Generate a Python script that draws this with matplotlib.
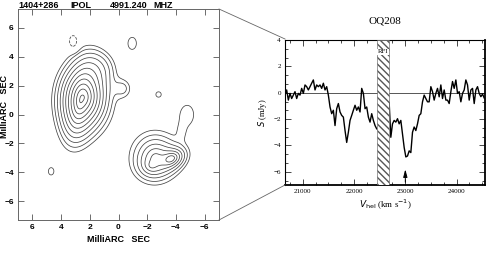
import numpy as np
import matplotlib
matplotlib.use("Agg")
from matplotlib import pyplot as plt
from matplotlib.lines import Line2D
from matplotlib.ticker import MultipleLocator

# --- contour map: source model as components (x, y in mas); kind 'e' = exponential, 'g' = gaussian ---
comp_kind = ['e', 'e', 'g', 'g', 'e', 'e', 'e', 'g', 'g', 'g', 'g', 'g', 'g']
comp_x    = [2.65, 2.40, 1.40, -0.35, -3.66, -2.30, -2.55, -4.80, -4.40, -0.96, -2.79, 4.70, 3.15]
comp_y    = [0.90, 1.20, 3.20, 1.80, -3.06, -3.55, -2.90, 0.05, -1.20, 4.93, 1.39, -3.94, 5.04]
comp_amp  = [19.0, 19.0, 1.5, 1.2, 9.0, 3.0, 5.0, 1.15, 0.45, 1.35, 1.2, 1.2, -2.3]
comp_sx   = [0.42, 0.65, 0.80, 0.45, 0.45, 0.45, 0.90, 0.62, 0.25, 0.35, 0.25, 0.25, 0.25]
comp_sy   = [1.00, 0.85, 0.80, 0.50, 0.30, 0.40, 0.95, 0.88, 0.45, 0.50, 0.25, 0.33, 0.38]
comp_pa   = [10, 0, 0, 0, 155, 0, 0, 0, 0, 0, 0, 0, 0]
levels = [1, 1.41, 2, 2.83, 4, 5.66, 8, 11.3, 16, 22.6, 32]

# --- HI spectrum ---
v_left0 = 20655
v_right0 = 22685
chan = 32.5
flux_left = [-0.18, 0.21, -0.56, -0.05, -0.44, -0.18, 0.08, -0.44, -0.05, -0.18,
             0.33, -0.05, 0.59, 0.46, 0.21, 0.46, 0.72, 0.97, 0.21, 0.59,
             0.46, 0.59, 0.33, 0.72, 0.21, 0.46, -0.18, -1.08, -1.59, -1.33,
             -2.49, -1.21, -0.82, -1.46, -1.72, -1.85, -2.87, -3.77, -3.0, -2.1,
             -1.72, -1.33, -0.95, -1.33, -1.08, -1.46, 0.33, -0.05, -1.21, -1.08,
             -1.85, -2.23, -1.59, -2.1, -2.49, -2.74]
flux_right = [-0.75, -3.38, -2.36, -2.1, -2.23, -1.97, -2.36, -2.1, -3.13, -4.15,
              -4.87, -4.8, -4.41, -4.54, -3.0, -2.6, -2.87, -2.36, -1.72, -1.59,
              -0.69, -0.18, -0.44, -0.69, -0.69, 0.46, 0.08, -0.56, -0.05, 0.33,
              -0.31, 0.59, -0.44, 0.21, -0.56, -0.56, -0.82, 0.08, 0.85, 0.33,
              0.97, -0.05, 0.08, -0.69, -0.05, 0.21, 0.97, 0.59, -0.56, 0.21,
              0.33, -0.82, 0.21, 0.46, -0.05, -0.3, -0.1, -0.4]
rfi = (22450, 22680)
v_sys = 23000

W, H = 491, 257
fig = plt.figure(figsize=(W/100, H/100), dpi=100)
fig.patch.set_facecolor('white')
sans = 'Liberation Sans'

# left panel
ax1 = fig.add_axes([18/W, 1-220/H, 201/W, 211/H])
gx = np.linspace(-7, 7, 500)
gy = np.linspace(-7.3, 7.3, 500)
X, Y = np.meshgrid(gx, gy)
img = np.zeros_like(X)
for kind, x0, y0, a, sx, sy, pa in zip(comp_kind, comp_x, comp_y, comp_amp, comp_sx, comp_sy, comp_pa):
    th = np.deg2rad(pa)
    dx, dy = X-x0, Y-y0
    u = (dx*np.cos(th) + dy*np.sin(th)) / sx
    v = (-dx*np.sin(th) + dy*np.cos(th)) / sy
    if kind == 'e':
        img += a*np.exp(-(np.sqrt(0.09 + u**2 + v**2) - 0.3))
    else:
        img += a*np.exp(-0.5*(u**2 + v**2))
ax1.contour(X, Y, img, levels=levels, colors='#444444', linewidths=0.55)
ax1.contour(X, Y, img, levels=[-1], colors='#444444', linewidths=0.55, linestyles='dashed')
ax1.set_xlim(7, -7)
ax1.set_ylim(-7.3, 7.3)
ax1.set_xticks([6, 4, 2, 0, -2, -4, -6])
ax1.set_yticks([6, 4, 2, 0, -2, -4, -6])
ax1.tick_params(direction='in', top=True, right=True, length=4, width=0.6,
                colors='#555555', labelcolor='black', labelsize=6, pad=3)
for lab in ax1.get_xticklabels() + ax1.get_yticklabels():
    lab.set_fontweight('bold')
    lab.set_family(sans)
for s in ax1.spines.values():
    s.set_color('#666666')
    s.set_linewidth(0.7)
ax1.set_xlabel('MilliARC   SEC', fontsize=6.5, fontweight='bold', family=sans, labelpad=3)
fig.text(4.5/W, 1-106/H, 'MilliARC   SEC', fontsize=6.5, fontweight='bold', family=sans,
         rotation=90, ha='center', va='center')
for xp, txt in [(18, '1404+286'), (70, 'IPOL'), (110, '4991.240'), (153, 'MHZ')]:
    fig.text(xp/W, 1-5/H, txt, fontsize=6.5, fontweight='bold', family=sans, va='center')

# right panel
ax2 = fig.add_axes([285/W, 1-185/H, 200/W, 145/H])
vl = v_left0 + chan*np.arange(len(flux_left))
vr = v_right0 + chan*np.arange(len(flux_right))
ax2.axhline(0, color='#555555', lw=0.7, zorder=1)
ax2.plot(vl, flux_left, color='black', lw=1.0, zorder=2)
ax2.plot(vr, flux_right, color='black', lw=1.0, zorder=2)
ax2.axvspan(rfi[0], rfi[1], facecolor='white', edgecolor='#555555', hatch='\\\\\\\\\\',
            lw=0.4, zorder=3)
ax2.text(sum(rfi)/2, 3.1, 'RFI', fontsize=5, family='Liberation Serif', ha='center',
         va='center', zorder=4, bbox=dict(facecolor='white', edgecolor='none', pad=0.3))
ax2.annotate('', xy=(v_sys, -5.6), xytext=(v_sys, -7),
             arrowprops=dict(arrowstyle='-|>,head_width=0.12,head_length=0.45', color='black', lw=0.7))
ax2.set_xlim(20655, 24553)
ax2.set_ylim(-7, 4)
ax2.set_xticks([21000, 22000, 23000, 24000])
ax2.set_yticks([-6, -4, -2, 0, 2, 4])
ax2.xaxis.set_minor_locator(MultipleLocator(250))
ax2.yaxis.set_minor_locator(MultipleLocator(2/3))
ax2.tick_params(which='both', direction='in', top=True, right=True, width=0.5,
                labelsize=5, pad=3)
ax2.tick_params(which='major', length=4)
ax2.tick_params(which='minor', length=2)
for lab in ax2.get_xticklabels() + ax2.get_yticklabels():
    lab.set_family('Liberation Serif')
for k, s in ax2.spines.items():
    s.set_linewidth(1.3 if k in ('bottom', 'right') else 0.8)
ax2.set_xlabel(r'$V_{\rm hel}$ (km s$^{-1}$)', fontsize=6.5, family='Liberation Serif', labelpad=3)
ax2.set_ylabel(r'$S$ (mJy)', fontsize=6, family='Liberation Serif', labelpad=3)
ax2.set_title('OQ208', fontsize=8, family='Liberation Serif', pad=12)

# zoom lines
fig.add_artist(Line2D([219/W, 285/W], [1-9/H, 1-39/H], color='#666666', lw=0.6))
fig.add_artist(Line2D([219/W, 285/W], [1-220/H, 1-185/H], color='#666666', lw=0.6))

fig.savefig('out.png', dpi=100)
